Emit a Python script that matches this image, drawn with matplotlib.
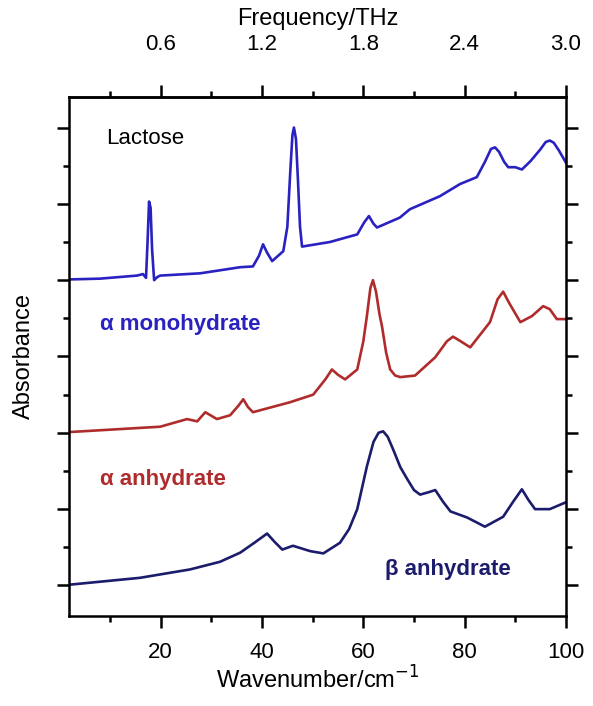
import numpy as np
import matplotlib
matplotlib.use('Agg')
import matplotlib.pyplot as plt
from matplotlib.ticker import MultipleLocator

plt.rcParams['font.family'] = ['Liberation Sans', 'DejaVu Sans']

# alpha monohydrate (offset 4)
mono_x = [2.1, 8, 15.3, 16.5, 17.1, 17.4, 17.7, 18.0, 18.3, 18.7, 19.3, 19.9, 27.8, 35.7, 38.2,
          39.4, 40.2, 41.0, 42.0, 44.2, 45.0, 45.6, 46.0, 46.3, 46.7, 47.1, 47.5, 47.9, 53.4,
          58.8, 60.2, 61.1, 62.0, 62.7, 67.2, 69.2, 75.1, 79.1, 82.4, 84.0, 85.2, 86.0, 86.8,
          87.8, 88.6, 90.0, 91.3, 93.0, 94.9, 96.0, 96.8, 97.6, 98.6, 100]
mono_y = [4.01, 4.02, 4.06, 4.08, 4.03, 4.5, 5.03, 4.95, 4.4, 4.0, 4.04, 4.06, 4.09, 4.17, 4.18,
          4.32, 4.47, 4.36, 4.25, 4.38, 4.7, 5.45, 5.9, 6.0, 5.85, 5.3, 4.7, 4.44, 4.5,
          4.6, 4.76, 4.84, 4.74, 4.69, 4.82, 4.93, 5.1, 5.26, 5.35, 5.55, 5.72, 5.74, 5.68,
          5.55, 5.48, 5.48, 5.45, 5.56, 5.71, 5.81, 5.83, 5.8, 5.7, 5.54]

# alpha anhydrate (offset 2)
anh_x = [2.0, 19.9, 25.2, 27.2, 28.8, 31.1, 33.7, 35.4, 36.3, 37.2, 38.2, 45.5, 50.1, 52.5,
         53.8, 55.0, 56.4, 58.8, 60.0, 60.7, 61.4, 61.9, 62.5, 63.2, 63.7, 64.5, 65.3, 66.3,
         67.3, 70.2, 74.2, 76.5, 77.7, 79.2, 81.1, 85.0, 86.5, 87.6, 88.8, 91.0, 93.3, 95.5,
         96.8, 98.2, 100]
anh_y = [2.01, 2.08, 2.18, 2.15, 2.27, 2.18, 2.23, 2.36, 2.44, 2.34, 2.27, 2.40, 2.50, 2.70,
         2.83, 2.76, 2.70, 2.83, 3.2, 3.53, 3.9, 4.0, 3.85, 3.55, 3.39, 3.05, 2.83, 2.75,
         2.73, 2.75, 2.99, 3.2, 3.26, 3.2, 3.12, 3.45, 3.75, 3.85, 3.7, 3.45, 3.53, 3.66,
         3.62, 3.49, 3.49]

# beta anhydrate (offset 0)
beta_x = [2.0, 15.9, 25.8, 31.7, 35.7, 38.5, 41.0, 42.5, 44.0, 46.1, 49.5, 52.1, 55.4, 57.2,
          58.8, 60.7, 62.0, 63.0, 63.9, 64.8, 65.9, 67.3, 68.7, 70.0, 71.2, 72.8, 74.2, 75.7,
          77.2, 80.5, 84.0, 87.6, 89.6, 91.3, 92.6, 93.9, 96.8, 100]
beta_y = [0.01, 0.10, 0.21, 0.31, 0.43, 0.56, 0.68, 0.57, 0.47, 0.52, 0.45, 0.42, 0.56, 0.74,
          1.0, 1.56, 1.88, 2.0, 2.02, 1.95, 1.78, 1.55, 1.39, 1.25, 1.19, 1.22, 1.25, 1.1,
          0.97, 0.89, 0.77, 0.90, 1.1, 1.26, 1.12, 1.0, 1.0, 1.09]

fig = plt.figure(figsize=(5.93, 7.06), dpi=100)
ax = fig.add_axes([0.1164, 0.1275, 0.838, 0.7351])

ax.plot(mono_x, mono_y, color='#2a22c0', lw=1.9)
ax.plot(anh_x, anh_y, color='#b02c2c', lw=1.9)
ax.plot(beta_x, beta_y, color='#1c1c6c', lw=1.9)

ax.set_xlim(1.9, 100)
ax.set_ylim(-0.4, 6.4)

ax.xaxis.set_major_locator(MultipleLocator(20))
ax.xaxis.set_minor_locator(MultipleLocator(10))
ax.yaxis.set_major_locator(MultipleLocator(1))
ax.yaxis.set_minor_locator(MultipleLocator(0.5))
ax.tick_params(axis='both', which='major', direction='out', length=8.5, width=1.8,
               labelsize=16, pad=10)
ax.tick_params(axis='both', which='minor', direction='out', length=4.5, width=1.8)
ax.tick_params(axis='y', which='both', left=True, right=True, labelleft=False)
for s in ax.spines.values():
    s.set_linewidth(1.8)

sec = ax.secondary_xaxis('top', functions=(lambda w: w * 0.03, lambda f: f / 0.03))
sec.xaxis.set_major_locator(MultipleLocator(0.6))
sec.xaxis.set_minor_locator(MultipleLocator(0.3))
sec.tick_params(which='major', direction='out', length=8.5, width=1.8, labelsize=16, pad=22)
sec.tick_params(which='minor', direction='out', length=4.5, width=1.8)
sec.spines['top'].set_linewidth(1.8)
sec.set_xticks([0.6, 1.2, 1.8, 2.4, 3.0])
sec.set_xticklabels(['0.6', '1.2', '1.8', '2.4', '3.0'])
sec.set_xlabel('Frequency/THz', fontsize=17, labelpad=6)

ax.set_xlabel('Wavenumber/cm$^{-1}$', fontsize=17, labelpad=3)
ax.set_ylabel('Absorbance', fontsize=17, labelpad=16)

ax.text(9.2, 5.86, 'Lactose', fontsize=16, color='black', va='center', ha='left')
ax.text(8.0, 3.42, '\u03b1 monohydrate', fontsize=16, color='#2a22c0', va='center', ha='left',
        fontweight='bold')
ax.text(8.0, 1.39, '\u03b1 anhydrate', fontsize=16, color='#b02c2c', va='center', ha='left',
        fontweight='bold')
ax.text(64.3, 0.21, '\u03b2 anhydrate', fontsize=16, color='#1c1c6c', va='center', ha='left',
        fontweight='bold')

fig.savefig('out.png', dpi=100)
